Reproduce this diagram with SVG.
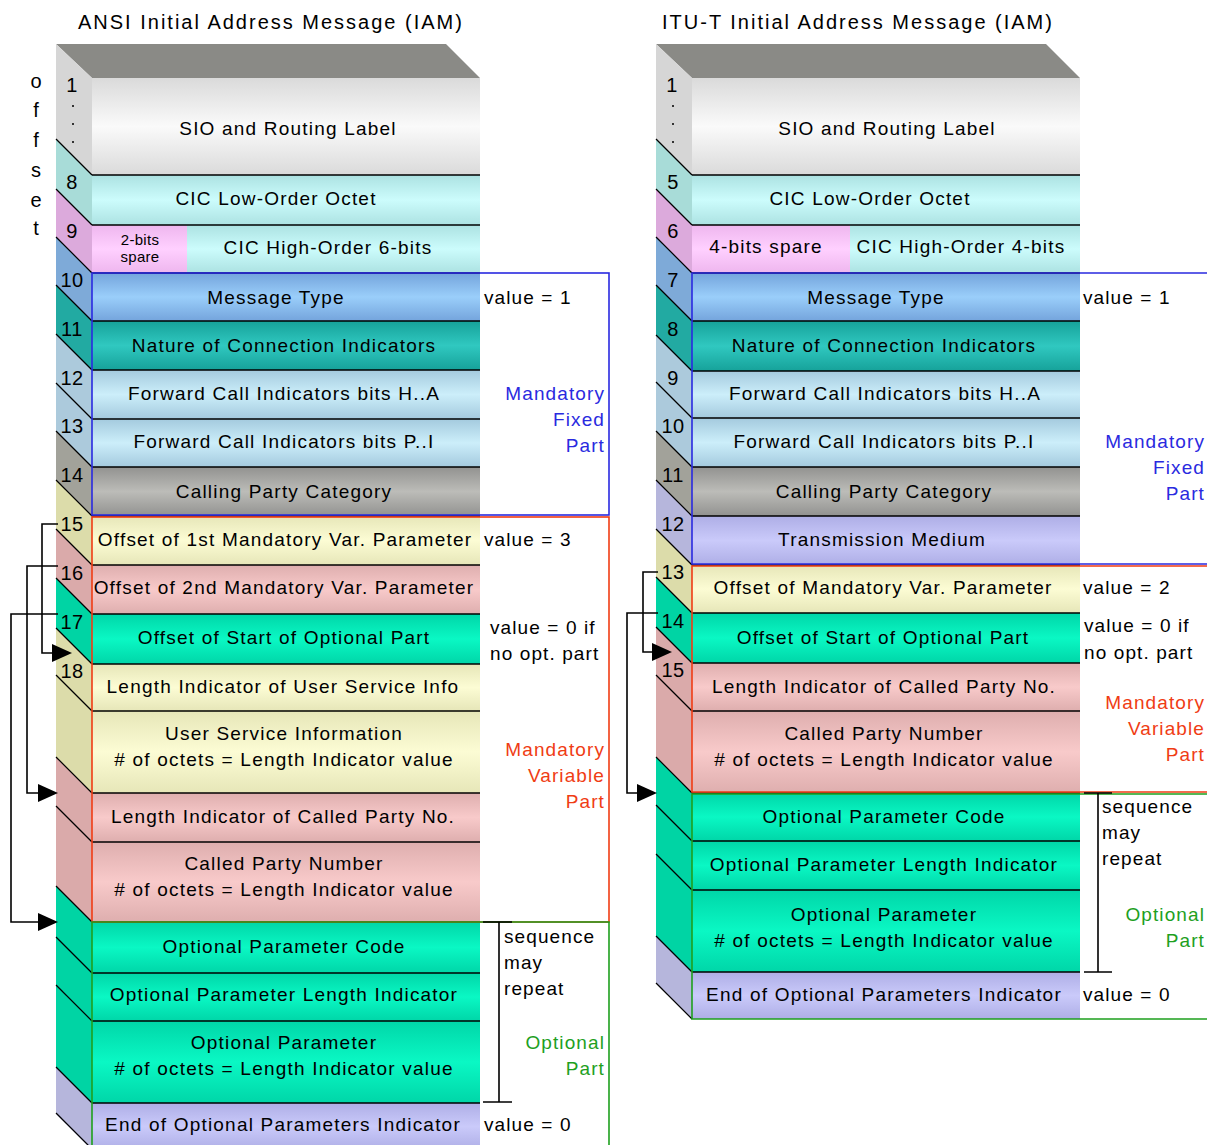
<svg xmlns="http://www.w3.org/2000/svg" width="1207" height="1145" viewBox="0 0 1207 1145">
  <style>
    text { font-family: "Liberation Sans", Arial, sans-serif; fill: #000; }
    .ttl { font-size: 20px; letter-spacing: 2px; }
    .t { font-size: 19px; letter-spacing: 1.2px; text-anchor: middle; }
    .ts { font-size: 15px; letter-spacing: 0.3px; text-anchor: middle; }
    .n { font-size: 20px; letter-spacing: 0.5px; text-anchor: middle; }
    .ofs { font-size: 20px; text-anchor: middle; }
    .a { font-size: 19px; letter-spacing: 1.1px; }
    .pb { font-size: 19px; letter-spacing: 1.1px; text-anchor: end; fill: #2a2ae0; }
    .pr { font-size: 19px; letter-spacing: 1.1px; text-anchor: end; fill: #f03c14; }
    .pg { font-size: 19px; letter-spacing: 1.1px; text-anchor: end; fill: #1ea01e; }
    .sep { stroke: #000; stroke-width: 1.6; }
    .dg { stroke: #000; stroke-width: 1.2; }
    .top { fill: #8a8a86; }
    .s-gray { fill: #d6d6d6; } .s-cyan { fill: #a8dcd8; } .s-pink { fill: #dcaadc; }
    .s-blue { fill: #7eaad8; } .s-teal { fill: #22aaa2; } .s-lblue { fill: #accadc; }
    .s-gray2 { fill: #a2a29a; } .s-yel { fill: #dcdcaa; } .s-rose { fill: #daaaaa; }
    .s-grn { fill: #00d4a4; } .s-lav { fill: #b6b6dc; }
    .bxb { fill: none; stroke: #2a2ae0; stroke-width: 1.6; }
    .bxr { fill: none; stroke: #f03c14; stroke-width: 1.6; }
    .bxg { fill: none; stroke: #1ea01e; stroke-width: 1.6; }
    .brk { fill: none; stroke: #000; stroke-width: 1.6; }
    .con { fill: none; stroke: #000; stroke-width: 1.6; }
  </style>
  <defs>
    <linearGradient id="g-gray" x1="0" y1="0" x2="0" y2="1">
      <stop offset="0" stop-color="#dadada"/><stop offset="0.5" stop-color="#fafafa"/><stop offset="1" stop-color="#dadada"/>
    </linearGradient>
    <linearGradient id="g-cyan" x1="0" y1="0" x2="0" y2="1">
      <stop offset="0" stop-color="#ace2e2"/><stop offset="0.5" stop-color="#ccfcfc"/><stop offset="1" stop-color="#ace2e2"/>
    </linearGradient>
    <linearGradient id="g-pink" x1="0" y1="0" x2="0" y2="1">
      <stop offset="0" stop-color="#eeb6ee"/><stop offset="0.5" stop-color="#ffd0ff"/><stop offset="1" stop-color="#eeb6ee"/>
    </linearGradient>
    <linearGradient id="g-blue" x1="0" y1="0" x2="0" y2="1">
      <stop offset="0" stop-color="#74a4dc"/><stop offset="0.5" stop-color="#9acefa"/><stop offset="1" stop-color="#74a4dc"/>
    </linearGradient>
    <linearGradient id="g-teal" x1="0" y1="0" x2="0" y2="1">
      <stop offset="0" stop-color="#16a29a"/><stop offset="0.5" stop-color="#30c8c0"/><stop offset="1" stop-color="#16a29a"/>
    </linearGradient>
    <linearGradient id="g-lblue" x1="0" y1="0" x2="0" y2="1">
      <stop offset="0" stop-color="#a4cade"/><stop offset="0.5" stop-color="#cceefa"/><stop offset="1" stop-color="#a4cade"/>
    </linearGradient>
    <linearGradient id="g-gray2" x1="0" y1="0" x2="0" y2="1">
      <stop offset="0" stop-color="#929290"/><stop offset="0.5" stop-color="#bcbcb8"/><stop offset="1" stop-color="#929290"/>
    </linearGradient>
    <linearGradient id="g-yel" x1="0" y1="0" x2="0" y2="1">
      <stop offset="0" stop-color="#e6e6b8"/><stop offset="0.5" stop-color="#fcfcd4"/><stop offset="1" stop-color="#e6e6b8"/>
    </linearGradient>
    <linearGradient id="g-rose" x1="0" y1="0" x2="0" y2="1">
      <stop offset="0" stop-color="#deaeae"/><stop offset="0.5" stop-color="#f8caca"/><stop offset="1" stop-color="#deaeae"/>
    </linearGradient>
    <linearGradient id="g-grn" x1="0" y1="0" x2="0" y2="1">
      <stop offset="0" stop-color="#00d6a8"/><stop offset="0.5" stop-color="#0af8c4"/><stop offset="1" stop-color="#00d6a8"/>
    </linearGradient>
    <linearGradient id="g-lav" x1="0" y1="0" x2="0" y2="1">
      <stop offset="0" stop-color="#aeaee6"/><stop offset="0.5" stop-color="#cacafa"/><stop offset="1" stop-color="#aeaee6"/>
    </linearGradient>
  </defs>

  <rect width="1207" height="1145" fill="#fff"/>

  <!-- titles -->
  <text class="ttl" x="78" y="29">ANSI Initial Address Message (IAM)</text>
  <text class="ttl" x="662" y="29">ITU-T Initial Address Message (IAM)</text>

  <!-- vertical "offset" caption -->
  <g id="offset-caption">
    <text class="ofs" x="36" y="88">o</text>
    <text class="ofs" x="36" y="117">f</text>
    <text class="ofs" x="36" y="147">f</text>
    <text class="ofs" x="36" y="177">s</text>
    <text class="ofs" x="36" y="207">e</text>
    <text class="ofs" x="36" y="235">t</text>
  </g>

  <!-- ===================== ANSI stack ===================== -->
  <g id="ansi">
    <polygon id="ansi-top" class="top" points="56,44 446,44 480,78 92,78"/>

    <g id="ansi-sio">
      <polygon class="s-gray" points="56,44 92,78 92,175 56,139"/>
      <rect x="92" y="78" width="388" height="97" fill="url(#g-gray)"/>
      <text class="n" x="72" y="92">1</text>
      <g fill="#333"><rect x="72" y="105" width="2" height="2"/><rect x="72" y="123" width="2" height="2"/><rect x="72" y="141" width="2" height="2"/></g>
      <text class="t" x="288" y="135">SIO and Routing Label</text>
    </g>

    <g id="ansi-cic-low">
      <polygon class="s-cyan" points="56,139 92,175 92,225 56,189"/>
      <rect x="92" y="175" width="388" height="50" fill="url(#g-cyan)"/>
      <line class="dg" x1="56" y1="139" x2="92" y2="175"/><line class="sep" x1="92" y1="175" x2="480" y2="175"/>
      <text class="n" x="72" y="189">8</text>
      <text class="t" x="276" y="205">CIC Low-Order Octet</text>
    </g>

    <g id="ansi-cic-high">
      <polygon class="s-pink" points="56,189 92,225 92,273 56,237"/>
      <rect x="92" y="225" width="95" height="48" fill="url(#g-pink)"/>
      <rect x="187" y="225" width="293" height="48" fill="url(#g-cyan)"/>
      <line class="dg" x1="56" y1="189" x2="92" y2="225"/><line class="sep" x1="92" y1="225" x2="480" y2="225"/>
      <text class="n" x="72" y="238">9</text>
      <text class="ts" x="140" y="245">2-bits</text>
      <text class="ts" x="140" y="262">spare</text>
      <text class="t" x="328" y="254">CIC High-Order 6-bits</text>
    </g>

    <g id="ansi-msg-type">
      <polygon class="s-blue" points="56,237 92,273 92,321 56,285"/>
      <rect x="92" y="273" width="388" height="48" fill="url(#g-blue)"/>
      <line class="dg" x1="56" y1="237" x2="92" y2="273"/><line class="sep" x1="92" y1="273" x2="480" y2="273"/>
      <text class="n" x="72" y="287">10</text>
      <text class="t" x="276" y="304">Message Type</text>
    </g>

    <g id="ansi-nci">
      <polygon class="s-teal" points="56,285 92,321 92,370 56,334"/>
      <rect x="92" y="321" width="388" height="49" fill="url(#g-teal)"/>
      <line class="dg" x1="56" y1="285" x2="92" y2="321"/><line class="sep" x1="92" y1="321" x2="480" y2="321"/>
      <text class="n" x="72" y="336">11</text>
      <text class="t" x="284" y="352">Nature of Connection Indicators</text>
    </g>

    <g id="ansi-fci-ha">
      <polygon class="s-lblue" points="56,334 92,370 92,419 56,383"/>
      <rect x="92" y="370" width="388" height="49" fill="url(#g-lblue)"/>
      <line class="dg" x1="56" y1="334" x2="92" y2="370"/><line class="sep" x1="92" y1="370" x2="480" y2="370"/>
      <text class="n" x="72" y="385">12</text>
      <text class="t" x="284" y="400">Forward Call Indicators bits H..A</text>
    </g>

    <g id="ansi-fci-pi">
      <polygon class="s-lblue" points="56,383 92,419 92,467 56,431"/>
      <rect x="92" y="419" width="388" height="48" fill="url(#g-lblue)"/>
      <line class="dg" x1="56" y1="383" x2="92" y2="419"/><line class="sep" x1="92" y1="419" x2="480" y2="419"/>
      <text class="n" x="72" y="433">13</text>
      <text class="t" x="284" y="448">Forward Call Indicators bits P..I</text>
    </g>

    <g id="ansi-cpc">
      <polygon class="s-gray2" points="56,431 92,467 92,516 56,480"/>
      <rect x="92" y="467" width="388" height="49" fill="url(#g-gray2)"/>
      <line class="dg" x1="56" y1="431" x2="92" y2="467"/><line class="sep" x1="92" y1="467" x2="480" y2="467"/>
      <text class="n" x="72" y="482">14</text>
      <text class="t" x="284" y="498">Calling Party Category</text>
    </g>

    <g id="ansi-off1">
      <polygon class="s-yel" points="56,480 92,516 92,565 56,529"/>
      <rect x="92" y="516" width="388" height="49" fill="url(#g-yel)"/>
      <line class="dg" x1="56" y1="480" x2="92" y2="516"/><line class="sep" x1="92" y1="516" x2="480" y2="516"/>
      <text class="n" x="72" y="531">15</text>
      <text class="t" x="285" y="546">Offset of 1st Mandatory Var. Parameter</text>
    </g>

    <g id="ansi-off2">
      <polygon class="s-rose" points="56,529 92,565 92,614 56,578"/>
      <rect x="92" y="565" width="388" height="49" fill="url(#g-rose)"/>
      <line class="dg" x1="56" y1="529" x2="92" y2="565"/><line class="sep" x1="92" y1="565" x2="480" y2="565"/>
      <text class="n" x="72" y="580">16</text>
      <text class="t" x="284" y="594">Offset of 2nd Mandatory Var. Parameter</text>
    </g>

    <g id="ansi-off-opt">
      <polygon class="s-grn" points="56,578 92,614 92,664 56,628"/>
      <rect x="92" y="614" width="388" height="50" fill="url(#g-grn)"/>
      <line class="dg" x1="56" y1="578" x2="92" y2="614"/><line class="sep" x1="92" y1="614" x2="480" y2="614"/>
      <text class="n" x="72" y="629">17</text>
      <text class="t" x="284" y="644">Offset of Start of Optional Part</text>
    </g>

    <g id="ansi-li-usi">
      <polygon class="s-yel" points="56,628 92,664 92,711 56,675"/>
      <rect x="92" y="664" width="388" height="47" fill="url(#g-yel)"/>
      <line class="dg" x1="56" y1="628" x2="92" y2="664"/><line class="sep" x1="92" y1="664" x2="480" y2="664"/>
      <text class="n" x="72" y="678">18</text>
      <text class="t" x="283" y="693">Length Indicator of User Service Info</text>
    </g>

    <g id="ansi-usi">
      <polygon class="s-yel" points="56,675 92,711 92,793 56,757"/>
      <rect x="92" y="711" width="388" height="82" fill="url(#g-yel)"/>
      <line class="dg" x1="56" y1="675" x2="92" y2="711"/><line class="sep" x1="92" y1="711" x2="480" y2="711"/>
      <text class="t" x="284" y="740">User Service Information</text>
      <text class="t" x="284" y="766"># of octets = Length Indicator value</text>
    </g>

    <g id="ansi-li-cpn">
      <polygon class="s-rose" points="56,757 92,793 92,842 56,806"/>
      <rect x="92" y="793" width="388" height="49" fill="url(#g-rose)"/>
      <line class="dg" x1="56" y1="757" x2="92" y2="793"/><line class="sep" x1="92" y1="793" x2="480" y2="793"/>
      <text class="t" x="283" y="823">Length Indicator of Called Party No.</text>
    </g>

    <g id="ansi-cpn">
      <polygon class="s-rose" points="56,806 92,842 92,922 56,886"/>
      <rect x="92" y="842" width="388" height="80" fill="url(#g-rose)"/>
      <line class="dg" x1="56" y1="806" x2="92" y2="842"/><line class="sep" x1="92" y1="842" x2="480" y2="842"/>
      <text class="t" x="284" y="870">Called Party Number</text>
      <text class="t" x="284" y="896"># of octets = Length Indicator value</text>
    </g>

    <g id="ansi-opc">
      <polygon class="s-grn" points="56,886 92,922 92,973 56,937"/>
      <rect x="92" y="922" width="388" height="51" fill="url(#g-grn)"/>
      <line class="dg" x1="56" y1="886" x2="92" y2="922"/><line class="sep" x1="92" y1="922" x2="480" y2="922"/>
      <text class="t" x="284" y="953">Optional Parameter Code</text>
    </g>

    <g id="ansi-opli">
      <polygon class="s-grn" points="56,937 92,973 92,1021 56,985"/>
      <rect x="92" y="973" width="388" height="48" fill="url(#g-grn)"/>
      <line class="dg" x1="56" y1="937" x2="92" y2="973"/><line class="sep" x1="92" y1="973" x2="480" y2="973"/>
      <text class="t" x="284" y="1001">Optional Parameter Length Indicator</text>
    </g>

    <g id="ansi-op">
      <polygon class="s-grn" points="56,985 92,1021 92,1103 56,1067"/>
      <rect x="92" y="1021" width="388" height="82" fill="url(#g-grn)"/>
      <line class="dg" x1="56" y1="985" x2="92" y2="1021"/><line class="sep" x1="92" y1="1021" x2="480" y2="1021"/>
      <text class="t" x="284" y="1049">Optional Parameter</text>
      <text class="t" x="284" y="1075"># of octets = Length Indicator value</text>
    </g>

    <g id="ansi-eop">
      <polygon class="s-lav" points="56,1067 92,1103 92,1150 56,1114"/>
      <rect x="92" y="1103" width="388" height="47" fill="url(#g-lav)"/>
      <line class="dg" x1="56" y1="1067" x2="92" y2="1103"/><line class="sep" x1="92" y1="1103" x2="480" y2="1103"/>
      <line class="dg" x1="56" y1="1113" x2="92" y2="1149"/>
      <text class="t" x="283" y="1131">End of Optional Parameters Indicator</text>
    </g>

    <!-- part outlines -->
    <g id="ansi-parts">
      <rect class="bxb" x="92" y="273" width="517" height="242"/>
      <rect class="bxr" x="92" y="517" width="517" height="405"/>
      <path class="bxg" d="M92,1150 V922 H609 V1150"/>
      <path class="brk" d="M483,922 H512 M499,922 V1102 M483,1102 H512"/>
    </g>

    <g id="ansi-notes">
      <text class="a" x="484" y="304">value = 1</text>
      <text class="pb" x="605" y="400">Mandatory</text>
      <text class="pb" x="605" y="426">Fixed</text>
      <text class="pb" x="605" y="452">Part</text>
      <text class="a" x="484" y="546">value = 3</text>
      <text class="a" x="490" y="634">value = 0 if</text>
      <text class="a" x="490" y="660">no opt. part</text>
      <text class="pr" x="605" y="756">Mandatory</text>
      <text class="pr" x="605" y="782">Variable</text>
      <text class="pr" x="605" y="808">Part</text>
      <text class="a" x="504" y="943">sequence</text>
      <text class="a" x="504" y="969">may</text>
      <text class="a" x="504" y="995">repeat</text>
      <text class="pg" x="605" y="1049">Optional</text>
      <text class="pg" x="605" y="1075">Part</text>
      <text class="a" x="484" y="1131">value = 0</text>
    </g>
  </g>

  <!-- ===================== ITU-T stack ===================== -->
  <g id="itu">
    <polygon id="itu-top" class="top" points="656,44 1046,44 1080,78 692,78"/>

    <g id="itu-sio">
      <polygon class="s-gray" points="656,44 692,78 692,175 656,139"/>
      <rect x="692" y="78" width="388" height="97" fill="url(#g-gray)"/>
      <text class="n" x="672" y="92">1</text>
      <g fill="#333"><rect x="672" y="105" width="2" height="2"/><rect x="672" y="123" width="2" height="2"/><rect x="672" y="141" width="2" height="2"/></g>
      <text class="t" x="887" y="135">SIO and Routing Label</text>
    </g>

    <g id="itu-cic-low">
      <polygon class="s-cyan" points="656,139 692,175 692,225 656,189"/>
      <rect x="692" y="175" width="388" height="50" fill="url(#g-cyan)"/>
      <line class="dg" x1="656" y1="139" x2="692" y2="175"/><line class="sep" x1="692" y1="175" x2="1080" y2="175"/>
      <text class="n" x="673" y="189">5</text>
      <text class="t" x="870" y="205">CIC Low-Order Octet</text>
    </g>

    <g id="itu-cic-high">
      <polygon class="s-pink" points="656,189 692,225 692,273 656,237"/>
      <rect x="692" y="225" width="158" height="48" fill="url(#g-pink)"/>
      <rect x="850" y="225" width="230" height="48" fill="url(#g-cyan)"/>
      <line class="dg" x1="656" y1="189" x2="692" y2="225"/><line class="sep" x1="692" y1="225" x2="1080" y2="225"/>
      <text class="n" x="673" y="238">6</text>
      <text class="t" x="766" y="253">4-bits spare</text>
      <text class="t" x="961" y="253">CIC High-Order 4-bits</text>
    </g>

    <g id="itu-msg-type">
      <polygon class="s-blue" points="656,237 692,273 692,321 656,285"/>
      <rect x="692" y="273" width="388" height="48" fill="url(#g-blue)"/>
      <line class="dg" x1="656" y1="237" x2="692" y2="273"/><line class="sep" x1="692" y1="273" x2="1080" y2="273"/>
      <text class="n" x="673" y="287">7</text>
      <text class="t" x="876" y="304">Message Type</text>
    </g>

    <g id="itu-nci">
      <polygon class="s-teal" points="656,285 692,321 692,371 656,335"/>
      <rect x="692" y="321" width="388" height="50" fill="url(#g-teal)"/>
      <line class="dg" x1="656" y1="285" x2="692" y2="321"/><line class="sep" x1="692" y1="321" x2="1080" y2="321"/>
      <text class="n" x="673" y="336">8</text>
      <text class="t" x="884" y="352">Nature of Connection Indicators</text>
    </g>

    <g id="itu-fci-ha">
      <polygon class="s-lblue" points="656,335 692,371 692,418 656,382"/>
      <rect x="692" y="371" width="388" height="47" fill="url(#g-lblue)"/>
      <line class="dg" x1="656" y1="335" x2="692" y2="371"/><line class="sep" x1="692" y1="371" x2="1080" y2="371"/>
      <text class="n" x="673" y="385">9</text>
      <text class="t" x="885" y="400">Forward Call Indicators bits H..A</text>
    </g>

    <g id="itu-fci-pi">
      <polygon class="s-lblue" points="656,382 692,418 692,467 656,431"/>
      <rect x="692" y="418" width="388" height="49" fill="url(#g-lblue)"/>
      <line class="dg" x1="656" y1="382" x2="692" y2="418"/><line class="sep" x1="692" y1="418" x2="1080" y2="418"/>
      <text class="n" x="673" y="433">10</text>
      <text class="t" x="884" y="448">Forward Call Indicators bits P..I</text>
    </g>

    <g id="itu-cpc">
      <polygon class="s-gray2" points="656,431 692,467 692,516 656,480"/>
      <rect x="692" y="467" width="388" height="49" fill="url(#g-gray2)"/>
      <line class="dg" x1="656" y1="431" x2="692" y2="467"/><line class="sep" x1="692" y1="467" x2="1080" y2="467"/>
      <text class="n" x="673" y="482">11</text>
      <text class="t" x="884" y="498">Calling Party Category</text>
    </g>

    <g id="itu-tm">
      <polygon class="s-lav" points="656,480 692,516 692,565 656,529"/>
      <rect x="692" y="516" width="388" height="49" fill="url(#g-lav)"/>
      <line class="dg" x1="656" y1="480" x2="692" y2="516"/><line class="sep" x1="692" y1="516" x2="1080" y2="516"/>
      <text class="n" x="673" y="531">12</text>
      <text class="t" x="882" y="546">Transmission Medium</text>
    </g>

    <g id="itu-off-mand">
      <polygon class="s-yel" points="656,529 692,565 692,613 656,577"/>
      <rect x="692" y="565" width="388" height="48" fill="url(#g-yel)"/>
      <line class="dg" x1="656" y1="529" x2="692" y2="565"/><line class="sep" x1="692" y1="565" x2="1080" y2="565"/>
      <text class="n" x="673" y="579">13</text>
      <text class="t" x="883" y="594">Offset of Mandatory Var. Parameter</text>
    </g>

    <g id="itu-off-opt">
      <polygon class="s-grn" points="656,577 692,613 692,663 656,627"/>
      <rect x="692" y="613" width="388" height="50" fill="url(#g-grn)"/>
      <line class="dg" x1="656" y1="577" x2="692" y2="613"/><line class="sep" x1="692" y1="613" x2="1080" y2="613"/>
      <text class="n" x="673" y="628">14</text>
      <text class="t" x="883" y="644">Offset of Start of Optional Part</text>
    </g>

    <g id="itu-li-cpn">
      <polygon class="s-rose" points="656,627 692,663 692,711 656,675"/>
      <rect x="692" y="663" width="388" height="48" fill="url(#g-rose)"/>
      <line class="dg" x1="656" y1="627" x2="692" y2="663"/><line class="sep" x1="692" y1="663" x2="1080" y2="663"/>
      <text class="n" x="673" y="677">15</text>
      <text class="t" x="884" y="693">Length Indicator of Called Party No.</text>
    </g>

    <g id="itu-cpn">
      <polygon class="s-rose" points="656,675 692,711 692,793 656,757"/>
      <rect x="692" y="711" width="388" height="82" fill="url(#g-rose)"/>
      <line class="dg" x1="656" y1="675" x2="692" y2="711"/><line class="sep" x1="692" y1="711" x2="1080" y2="711"/>
      <text class="t" x="884" y="740">Called Party Number</text>
      <text class="t" x="884" y="766"># of octets = Length Indicator value</text>
    </g>

    <g id="itu-opc">
      <polygon class="s-grn" points="656,757 692,793 692,841 656,805"/>
      <rect x="692" y="793" width="388" height="48" fill="url(#g-grn)"/>
      <line class="dg" x1="656" y1="757" x2="692" y2="793"/><line class="sep" x1="692" y1="793" x2="1080" y2="793"/>
      <text class="t" x="884" y="823">Optional Parameter Code</text>
    </g>

    <g id="itu-opli">
      <polygon class="s-grn" points="656,805 692,841 692,890 656,854"/>
      <rect x="692" y="841" width="388" height="49" fill="url(#g-grn)"/>
      <line class="dg" x1="656" y1="805" x2="692" y2="841"/><line class="sep" x1="692" y1="841" x2="1080" y2="841"/>
      <text class="t" x="884" y="871">Optional Parameter Length Indicator</text>
    </g>

    <g id="itu-op">
      <polygon class="s-grn" points="656,854 692,890 692,972 656,936"/>
      <rect x="692" y="890" width="388" height="82" fill="url(#g-grn)"/>
      <line class="dg" x1="656" y1="854" x2="692" y2="890"/><line class="sep" x1="692" y1="890" x2="1080" y2="890"/>
      <text class="t" x="884" y="921">Optional Parameter</text>
      <text class="t" x="884" y="947"># of octets = Length Indicator value</text>
    </g>

    <g id="itu-eop">
      <polygon class="s-lav" points="656,936 692,972 692,1019 656,983"/>
      <rect x="692" y="972" width="388" height="47" fill="url(#g-lav)"/>
      <line class="dg" x1="656" y1="936" x2="692" y2="972"/><line class="sep" x1="692" y1="972" x2="1080" y2="972"/>
      <line class="dg" x1="656" y1="983" x2="692" y2="1019"/>
      <text class="t" x="884" y="1001">End of Optional Parameters Indicator</text>
    </g>

    <!-- part outlines -->
    <g id="itu-parts">
      <path class="bxb" d="M1207,273 H692 V564 H1207"/>
      <path class="bxr" d="M1207,566 H692 V792 H1207"/>
      <path class="bxg" d="M1207,794 H692 V1019 H1207"/>
      <path class="brk" d="M1084,793 H1112 M1098,793 V972 M1084,972 H1112"/>
    </g>

    <g id="itu-notes">
      <text class="a" x="1083" y="304">value = 1</text>
      <text class="pb" x="1205" y="448">Mandatory</text>
      <text class="pb" x="1205" y="474">Fixed</text>
      <text class="pb" x="1205" y="500">Part</text>
      <text class="a" x="1083" y="594">value = 2</text>
      <text class="a" x="1084" y="632">value = 0 if</text>
      <text class="a" x="1084" y="659">no opt. part</text>
      <text class="pr" x="1205" y="709">Mandatory</text>
      <text class="pr" x="1205" y="735">Variable</text>
      <text class="pr" x="1205" y="761">Part</text>
      <text class="a" x="1102" y="813">sequence</text>
      <text class="a" x="1102" y="839">may</text>
      <text class="a" x="1102" y="865">repeat</text>
      <text class="pg" x="1205" y="921">Optional</text>
      <text class="pg" x="1205" y="947">Part</text>
      <text class="a" x="1083" y="1001">value = 0</text>
    </g>
  </g>

  <!-- offset pointers -->
  <g id="connectors">
    <path class="con" d="M58,524 H42 V653 H54"/>
    <polygon points="52,644 72,653 52,662"/>
    <path class="con" d="M58,566 H27 V793 H40"/>
    <polygon points="38,784 58,793 38,802"/>
    <path class="con" d="M58,614 H11 V922 H40"/>
    <polygon points="38,913 58,922 38,931"/>
    <path class="con" d="M658,572 H643 V652 H654"/>
    <polygon points="652,643 672,652 652,661"/>
    <path class="con" d="M658,613 H627 V793 H639"/>
    <polygon points="637,784 657,793 637,802"/>
  </g>
</svg>
